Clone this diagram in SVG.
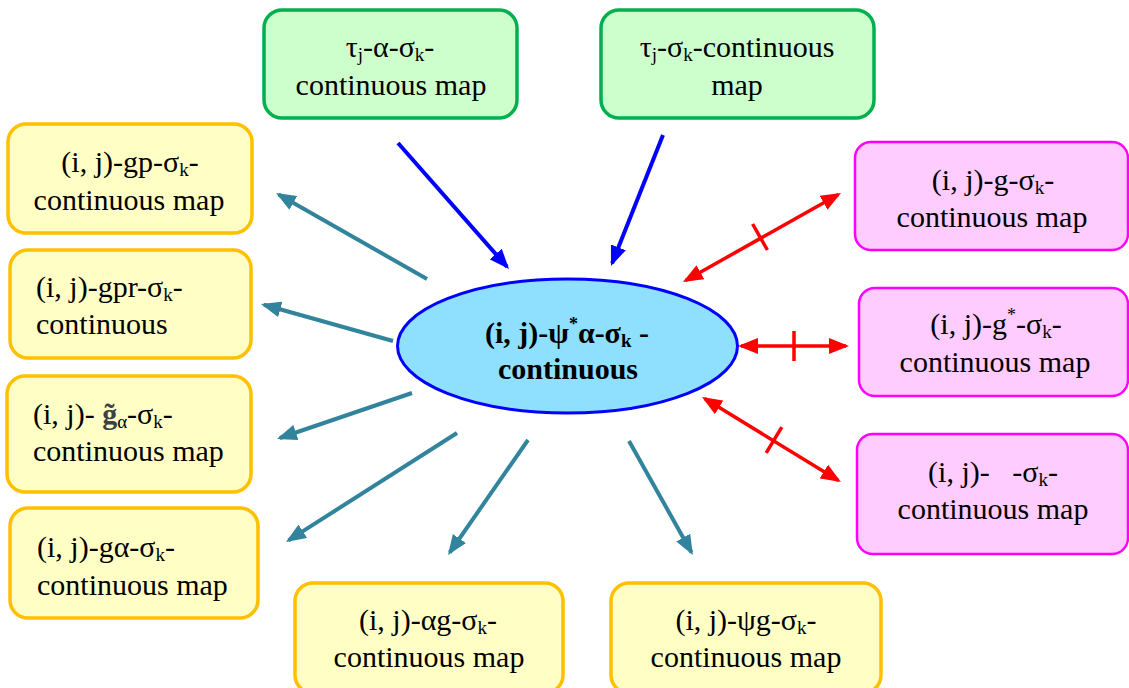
<svg xmlns="http://www.w3.org/2000/svg" width="1129" height="688" viewBox="0 0 1129 688">
<style>
text{font-family:'Liberation Serif','Times New Roman','DejaVu Serif',serif;font-size:30px;fill:#000}
.c{text-anchor:middle}
.b{font-weight:bold}
.sub{font-size:19px}
.sup{font-size:18px}
.yel{fill:#ffffc5;stroke:#ffc000;stroke-width:3.5}
.grn{fill:#ccffcc;stroke:#00b050;stroke-width:3.5}
.mag{fill:#ffccff;stroke:#ff00ff;stroke-width:2.5}
.teal{stroke:#31849b;stroke-width:4;fill:none;marker-end:url(#ahTeal)}
.blue{stroke:#0000ff;stroke-width:4;fill:none;marker-end:url(#ahBlue)}
.red{stroke:#ff0000;stroke-width:3.5;fill:none;marker-end:url(#ahRed);marker-start:url(#ahRed)}
.tick{stroke:#ff0000;stroke-width:3.5;fill:none}
</style>
<defs>
<marker id="ahTeal" viewBox="0 0 20 16" refX="17" refY="8" markerWidth="20" markerHeight="16" orient="auto" markerUnits="userSpaceOnUse"><path d="M0,0 L20,8 L0,16 z" fill="#31849b"/></marker>
<marker id="ahBlue" viewBox="0 0 20 16" refX="17" refY="8" markerWidth="20" markerHeight="16" orient="auto" markerUnits="userSpaceOnUse"><path d="M0,0 L20,8 L0,16 z" fill="#0000ff"/></marker>
<marker id="ahRed" viewBox="0 0 20 16" refX="17" refY="8" markerWidth="20" markerHeight="16" orient="auto-start-reverse" markerUnits="userSpaceOnUse"><path d="M0,0 L20,8 L0,16 z" fill="#ff0000"/></marker>
</defs>

<g id="connectors">
<line class="blue" x1="398" y1="143" x2="507" y2="266.8"/>
<line class="blue" x1="663" y1="135" x2="612.1" y2="263.2"/>
<line class="teal" x1="427" y1="279" x2="278.6" y2="194.5"/>
<line class="teal" x1="393" y1="341" x2="263.9" y2="304.8"/>
<line class="teal" x1="412" y1="393" x2="279.8" y2="438"/>
<line class="teal" x1="457" y1="433" x2="288.5" y2="540.4"/>
<line class="teal" x1="528" y1="440" x2="449.7" y2="552.5"/>
<line class="teal" x1="629" y1="441" x2="691.5" y2="552.4"/>
<line class="red" x1="685.6" y1="280.5" x2="838.4" y2="194.5"/>
<line class="tick" x1="752.6" y1="224" x2="767.4" y2="250"/>
<line class="red" x1="741" y1="346" x2="846" y2="346"/>
<line class="tick" x1="794" y1="331" x2="794" y2="361"/>
<line class="red" x1="704.6" y1="398.6" x2="838.4" y2="480.4"/>
<line class="tick" x1="781.8" y1="427.2" x2="766.2" y2="452.8"/>
</g>

<g id="center">
<ellipse cx="567.5" cy="346" rx="170" ry="67" fill="#8fdfff" stroke="#0000ff" stroke-width="3"/>
<text class="c b" x="567" y="343">(i, j)-ψ<tspan class="sup" dy="-13">*</tspan><tspan dy="13">α-σ</tspan><tspan class="sub" dy="4">k</tspan><tspan dy="-4"> -</tspan></text>
<text class="c b" x="568" y="379">continuous</text>
</g>

<g id="n-tau-alpha">
<rect class="grn" x="264" y="10" width="253" height="108" rx="18"/>
<text class="c" x="390" y="57">τ<tspan class="sub" dy="4">j</tspan><tspan dy="-4">-α-σ</tspan><tspan class="sub" dy="4">k</tspan><tspan dy="-4">-</tspan></text>
<text class="c" x="391" y="95">continuous map</text>
</g>

<g id="n-tau">
<rect class="grn" x="601" y="10" width="273" height="108" rx="18"/>
<text class="c" x="737" y="57">τ<tspan class="sub" dy="4">j</tspan><tspan dy="-4">-σ</tspan><tspan class="sub" dy="4">k</tspan><tspan dy="-4">-continuous</tspan></text>
<text class="c" x="737" y="95">map</text>
</g>

<g id="n-gp">
<rect class="yel" x="8" y="124" width="244" height="109" rx="18"/>
<text class="c" x="130" y="172">(i, j)-gp-σ<tspan class="sub" dy="4">k</tspan><tspan dy="-4">-</tspan></text>
<text class="c" x="129" y="210">continuous map</text>
</g>

<g id="n-gpr">
<rect class="yel" x="10" y="250" width="241" height="108" rx="18"/>
<text x="36" y="297">(i, j)-gpr-σ<tspan class="sub" dy="4">k</tspan><tspan dy="-4">-</tspan></text>
<text x="36" y="334">continuous</text>
</g>

<g id="n-gtilde">
<rect class="yel" x="7" y="376" width="244" height="116" rx="18"/>
<text x="33" y="424">(i, j)- <tspan font-weight="bold" fill="#404040">g̃</tspan><tspan class="sub" dy="4">α</tspan><tspan dy="-4">-σ</tspan><tspan class="sub" dy="4">k</tspan><tspan dy="-4">-</tspan></text>
<text x="33" y="461">continuous map</text>
</g>

<g id="n-galpha">
<rect class="yel" x="10" y="508" width="248" height="110" rx="18"/>
<text x="37" y="557">(i, j)-gα-σ<tspan class="sub" dy="4">k</tspan><tspan dy="-4">-</tspan></text>
<text x="37" y="595">continuous map</text>
</g>

<g id="n-alphag">
<rect class="yel" x="295" y="583" width="268" height="110" rx="18"/>
<text class="c" x="428" y="630">(i, j)-αg-σ<tspan class="sub" dy="4">k</tspan><tspan dy="-4">-</tspan></text>
<text class="c" x="429" y="667">continuous map</text>
</g>

<g id="n-psig">
<rect class="yel" x="611" y="583" width="270" height="110" rx="18"/>
<text class="c" x="746" y="630">(i, j)-ψg-σ<tspan class="sub" dy="4">k</tspan><tspan dy="-4">-</tspan></text>
<text class="c" x="746" y="667">continuous map</text>
</g>

<g id="n-g">
<rect class="mag" x="855" y="142" width="273" height="108" rx="16"/>
<text class="c" x="993" y="190">(i, j)-g-σ<tspan class="sub" dy="4">k</tspan><tspan dy="-4">-</tspan></text>
<text class="c" x="992" y="227">continuous map</text>
</g>

<g id="n-gstar">
<rect class="mag" x="859" y="288" width="269" height="108" rx="16"/>
<text class="c" x="996" y="334">(i, j)-g<tspan class="sup" dy="-13">*</tspan><tspan dy="13">-σ</tspan><tspan class="sub" dy="4">k</tspan><tspan dy="-4">-</tspan></text>
<text class="c" x="995" y="372">continuous map</text>
</g>

<g id="n-blank">
<rect class="mag" x="857" y="434" width="271" height="120" rx="16"/>
<text class="c" x="993" y="482" xml:space="preserve">(i, j)-   -σ<tspan class="sub" dy="4">k</tspan><tspan dy="-4">-</tspan></text>
<text class="c" x="993" y="519">continuous map</text>
</g>
</svg>
